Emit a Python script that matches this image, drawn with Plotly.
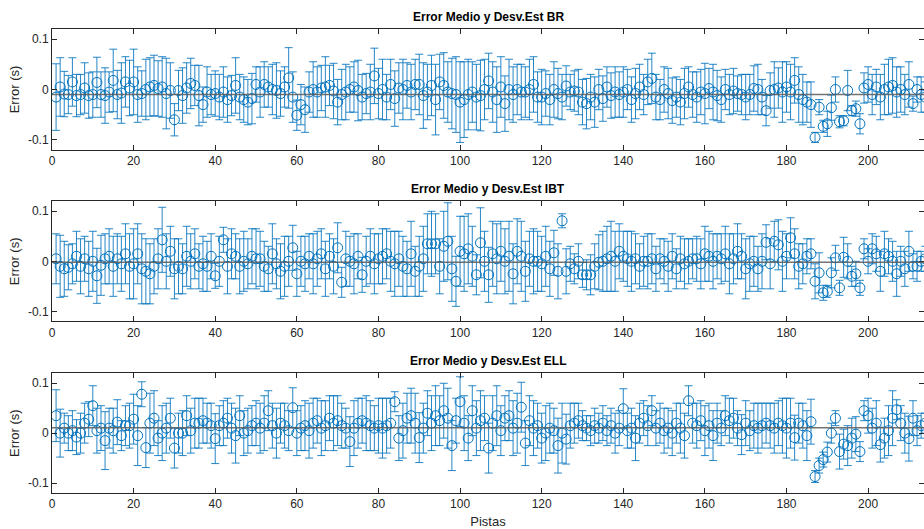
import plotly.graph_objects as go

# ---------------- data (values in milliseconds) ----------------
track = list(range(1, 215))

br_mean_ms = [
    -15, 5, -9, -10, 15, -12, -10, 3, -12, -10,
    14, -10, -12, -5, 18, -10, -7, 15, 3, 15,
    -10, -8, 0, 5, 8, 2, 5, -8, -2, -60,
    -2, -12, 3, 12, 8, -12, -30, -5, -10, -8,
    -15, -5, -20, -12, 8, -15, -20, -25, -18, 10,
    -5, 10, 5, 0, -2, -8, 5, 23, -15, -51,
    -30, -40, -5, 0, -5, 3, 5, 8, -3, -25,
    -10, -5, 0, 5, -2, -15, -8, -5, 27, -8,
    0, -15, 10, -18, 3, 0, 8, -5, 10, 10,
    -12, -5, 8, -20, 15, 8, -5, -8, -10, -25,
    -20, -10, -5, -15, -12, 0, 17, -5, -20, 5,
    -28, 0, -10, 0, -5, -5, 0, 10, -15, -15,
    -8, -20, 0, -8, -15, 7, -5, -3, -5, -25,
    -28, -15, -25, 0, -18, 5, -12, -5, -10, -5,
    0, -20, -8, 5, -10, 15, 22, -15, -20, 0,
    -8, -22, -15, -25, -8, 5, -10, -15, -5, -8,
    2, -5, -12, -20, 0, -10, -3, -8, -10, -15,
    -10, 2, 0, -15, -42, -2, 0, 3, -5, 5,
    -5, 18, -10, -20, -25, -30, -95, -35, -73, -68,
    -36, 0, -64, -62, -2, -42, -38, -68, 3, 10,
    -10, 5, -15, 0, 5, 8, -5, 0, -10, 10, -28, 0, -10, -15,
]
br_std_ms = [
    66, 58, 45, 38, 48, 42, 40, 50, 45, 45,
    50, 45, 55, 40, 62, 48, 60, 50, 55, 65,
    55, 45, 60, 58, 60, 55, 60, 70, 55, 32,
    40, 55, 50, 50, 40, 60, 35, 50, 40, 45,
    45, 50, 45, 40, 55, 45, 45, 45, 50, 35,
    50, 45, 40, 50, 55, 45, 40, 60, 50, 30,
    40, 45, 40, 55, 50, 45, 60, 40, 55, 45,
    50, 55, 45, 50, 60, 45, 40, 55, 55, 50,
    60, 45, 50, 55, 50, 60, 45, 55, 50, 60,
    65, 55, 60, 70, 55, 65, 60, 70, 75, 80,
    75, 70, 60, 65, 70, 60, 55, 60, 65, 60,
    55, 60, 55, 50, 55, 50, 60, 55, 50, 55,
    45, 50, 55, 50, 45, 40, 35, 40, 45, 45,
    50, 45, 50, 40, 45, 40, 45, 50, 45, 50,
    40, 45, 50, 45, 40, 45, 50, 45, 40, 45,
    50, 45, 40, 45, 50, 40, 45, 50, 45, 60,
    40, 55, 50, 45, 40, 40, 45, 35, 40, 45,
    40, 45, 50, 35, 30, 35, 55, 40, 60, 50,
    55, 45, 55, 50, 40, 45, 10, 15, 12, 25,
    25, 25, 12, 10, 40, 10, 15, 20, 30, 35,
    40, 35, 45, 50, 55, 55, 50, 45, 40, 45, 15, 25, 35, 30,
]

ibt_mean_ms = [
    5, -10, -15, -12, -5, 10, -10, 5, -15, 0,
    -29, -8, 5, 10, -10, 5, -5, 15, -10, -5,
    15, -15, -20, -25, -10, 5, 43, 0, 20, -15,
    -10, -15, 10, 0, 15, -10, -5, -10, 10, -29,
    0, 43, -10, 15, 10, -10, 0, -5, 10, 5,
    5, -10, -15, 15, -5, -20, -10, 0, 27, -25,
    0, -5, 10, -5, 5, 15, -15, 10, -10, 27,
    -42, 5, 0, -5, 10, -27, 0, 10, -5, 5,
    10, 15, 0, -5, 5, -10, -15, 15, -20, -10,
    5, 35, 35, 35, -10, 30, 40, -15, -40, 20,
    15, 25, 10, -27, 37, 0, -27, 15, 5, 20,
    0, 10, -25, 20, 10, -20, 5, 0, 0, -5,
    10, -15, 17, -20, 81, -20, -5, -15, 0, -27,
    -27, -27, -10, -2, 0, 5, 10, 0, 20, 10,
    5, 0, 5, -10, 0, 0, 5, -15, 5, 0,
    -10, 10, -15, 5, -5, 0, 5, 5, -5, 15,
    10, 0, 10, 5, 15, -5, 5, 20, 10, -15,
    -5, 0, -15, 0, 38, -5, 40, 33, 0, 10,
    47, 15, -10, -5, 10, 15, -40, -23, -63, -60,
    -23, 7, -53, 8, 0, -30, -25, -53, 25, 0,
    25, 15, -20, 15, 10, 0, -25, 0, -15, 20, -10, -10, 0, 5,
]
ibt_std_ms = [
    50, 62, 55, 45, 40, 50, 55, 45, 55, 60,
    55, 60, 50, 55, 60, 50, 55, 60, 65, 70,
    60, 70, 65, 60, 55, 60, 65, 55, 50, 60,
    55, 50, 60, 55, 50, 45, 55, 50, 45, 25,
    50, 25, 55, 50, 45, 55, 60, 50, 55, 60,
    55, 50, 45, 60, 50, 55, 60, 50, 45, 45,
    50, 55, 45, 60, 55, 50, 55, 45, 55, 50,
    30, 55, 50, 60, 45, 35, 50, 55, 60, 50,
    55, 50, 60, 65, 55, 60, 55, 65, 50, 60,
    65, 60, 65, 60, 55, 70, 77, 65, 50, 70,
    75, 70, 60, 40, 70, 60, 55, 65, 70, 60,
    65, 70, 60, 65, 70, 60, 55, 65, 60, 55,
    60, 55, 45, 55, 14, 45, 35, 30, 35, 25,
    30, 40, 45, 55, 60, 65, 70, 60, 55, 50,
    55, 60, 50, 45, 50, 55, 50, 45, 40, 45,
    50, 45, 40, 45, 50, 45, 40, 45, 50, 55,
    50, 55, 45, 50, 55, 60, 50, 55, 45, 60,
    55, 50, 45, 55, 35, 50, 40, 50, 60, 45,
    40, 50, 45, 40, 35, 30, 35, 40, 15, 12,
    30, 25, 15, 40, 35, 20, 25, 15, 20, 25,
    30, 35, 40, 45, 35, 40, 45, 30, 35, 40, 25, 30, 20, 25,
]

ell_mean_ms = [
    35, 0, 10, 0, 5, -8, 0, 20, 28, 55,
    5, 10, -15, 10, 5, 22, -5, 15, 15, 28,
    -5, 78, -29, 20, 30, -10, 0, 10, 30, -30,
    0, 0, 35, 5, 20, 20, 25, 20, 15, -11,
    15, 20, 30, 10, -5, 35, 0, 5, 15, 20,
    10, 20, 45, 15, 0, 20, 15, 5, 51, 0,
    10, 15, 5, 20, 25, 10, 15, 30, 20, 25,
    15, 10, -17, 10, 20, 25, 20, 15, 10, 15,
    10, 15, 20, 63, -10, 5, 30, 35, 20, -9,
    10, 40, 20, 35, 25, 45, 30, -25, 25, 63,
    20, -10, 45, 10, 25, 30, -30, 20, 35, 5,
    30, 35, 10, 20, 52, -20, 25, 10, 15, -10,
    0, 10, 5, -25, 0, -12, 15, 20, 25, 15,
    10, 5, 15, 10, 20, 5, 15, 0, 10, 49,
    5, 10, -10, 20, 30, 15, 45, 10, 20, 5,
    10, 0, 20, 10, -5, 65, 20, 15, 25, 5,
    15, -5, 20, 10, 35, 25, 30, 10, -3, 20,
    5, 15, 10, 15, 20, 15, 10, 20, 15, 10,
    20, -9, 20, 15, -5, 23, -87, -65, -53, -38,
    0, 30, -37, -22, -25, -10, -2, -37, 45, 35,
    10, 20, -23, -10, 5, 30, 47, 20, 0, -11, 30, 5, 15, 20,
]
ell_std_ms = [
    52, 48, 30, 35, 40, 35, 40, 40, 35, 40,
    45, 45, 58, 40, 45, 45, 30, 40, 45, 50,
    60, 25, 40, 60, 55, 35, 55, 50, 40, 40,
    40, 45, 40, 45, 50, 50, 45, 40, 45, 50,
    40, 45, 40, 50, 55, 40, 45, 45, 40, 45,
    50, 55, 40, 45, 50, 40, 45, 40, 40, 45,
    45, 50, 55, 50, 45, 55, 50, 45, 55, 50,
    45, 40, 50, 55, 50, 45, 55, 50, 45, 55,
    60, 55, 50, 20, 45, 55, 50, 55, 60, 50,
    50, 45, 55, 60, 50, 55, 60, 50, 45, 50,
    55, 45, 50, 55, 60, 45, 50, 55, 60, 50,
    45, 50, 55, 60, 50, 45, 50, 55, 45, 50,
    55, 50, 45, 55, 60, 50, 45, 40, 35, 30,
    25, 30, 35, 30, 35, 30, 35, 40, 35, 40,
    35, 40, 45, 40, 35, 40, 30, 35, 40, 45,
    40, 45, 40, 50, 45, 30, 40, 45, 40, 50,
    45, 50, 40, 35, 40, 45, 40, 35, 40, 45,
    40, 45, 50, 45, 40, 45, 50, 45, 55, 60,
    50, 45, 40, 45, 50, 45, 12, 15, 15, 20,
    20, 15, 35, 30, 40, 40, 35, 20, 20, 35,
    40, 45, 35, 40, 50, 55, 20, 35, 40, 45, 35, 30, 25, 20,
]

overall_mean = [-0.010, -0.002, 0.011]   # grey reference line of each panel (s)
titles = ["Error Medio y Desv.Est BR", "Error Medio y Desv.Est IBT", "Error Medio y Desv.Est ELL"]
x_ticks = [0, 20, 40, 60, 80, 100, 120, 140, 160, 180, 200]
y_ticks = [-0.1, 0, 0.1]
y_ticklabels = ["-0.1", "0", "0.1"]

series = [(br_mean_ms, br_std_ms), (ibt_mean_ms, ibt_std_ms), (ell_mean_ms, ell_std_ms)]

# ---------------- figure ----------------
BLUE = "#0072BD"
AX = "#262626"
FONT = "Liberation Sans, Arial, sans-serif"
domains = [[0.7392, 1.0], [0.370, 0.6287], [0.0, 0.258]]

fig = go.Figure()
for k, (m, s) in enumerate(series):
    ax = "" if k == 0 else str(k + 1)
    fig.add_trace(go.Scatter(
        x=track, y=[v / 1000 for v in m],
        mode="markers",
        marker=dict(symbol="circle-open", size=10, color=BLUE, line=dict(width=1, color=BLUE)),
        error_y=dict(type="data", array=[v / 1000 for v in s], visible=True,
                     color="rgba(0,114,189,0.85)", thickness=1, width=4),
        xaxis="x" + ax, yaxis="y" + ax, showlegend=False, cliponaxis=True,
    ))
    fig.add_shape(type="line", xref="x" + ax + " domain", yref="y" + ax,
                  x0=0, x1=1, y0=overall_mean[k], y1=overall_mean[k],
                  line=dict(color="rgba(90,90,90,0.85)", width=1.5), layer="above")

layout = dict(
    width=924, height=529,
    margin=dict(l=52, r=0, t=29, b=36),
    paper_bgcolor="white", plot_bgcolor="white",
    font=dict(family=FONT, color=AX, size=12),
    annotations=[],
)
for k in range(3):
    ax = "" if k == 0 else str(k + 1)
    layout["xaxis" + ax] = dict(
        domain=[0, 1], anchor="y" + ax, range=[0, 213.7],
        tickvals=x_ticks, ticktext=[str(t) for t in x_ticks],
        ticks="inside", ticklen=5, tickcolor=AX, tickwidth=1,
        showline=True, linecolor=AX, linewidth=1, mirror="ticks",
        showgrid=False, zeroline=False, tickfont=dict(size=12, color=AX),
        title=dict(text="Pistas", font=dict(size=13, color=AX), standoff=7) if k == 2 else None,
    )
    layout["yaxis" + ax] = dict(
        domain=domains[k], anchor="x" + ax, range=[-0.12, 0.12],
        tickvals=y_ticks, ticktext=y_ticklabels,
        ticks="inside", ticklen=5, tickcolor=AX, tickwidth=1,
        showline=True, linecolor=AX, linewidth=1, mirror="ticks",
        showgrid=False, zeroline=False, tickfont=dict(size=12, color=AX),
        title=dict(text="Error (s)", font=dict(size=13, color=AX), standoff=5),
    )
    layout["annotations"].append(dict(
        text="<b>" + titles[k] + "</b>", xref="x" + ax + " domain", yref="y" + ax + " domain",
        x=0.5, y=1.0, yshift=3, xanchor="center", yanchor="bottom", showarrow=False,
        font=dict(size=12, color="black", family=FONT),
    ))
fig.update_layout(**layout)
fig.write_html("out.html")
